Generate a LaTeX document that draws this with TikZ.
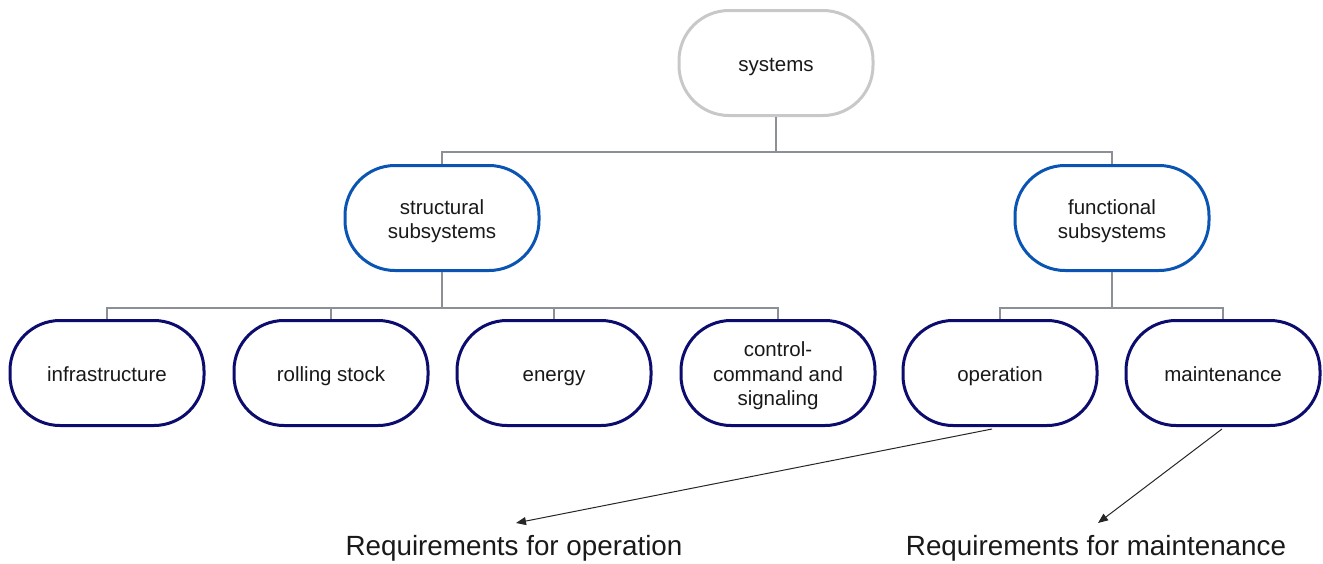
\documentclass[tikz,border=0pt]{standalone}
\usepackage{fontspec}
\setmainfont{Liberation Sans}
\usetikzlibrary{arrows.meta,calc}
\definecolor{sysgray}{RGB}{200,200,200}
\definecolor{subblue}{RGB}{10,85,180}
\definecolor{navy}{RGB}{12,12,110}
\definecolor{linkgray}{RGB}{140,144,150}
\definecolor{txt}{RGB}{25,25,25}
\newcommand{\lowstrut}{\rule{0pt}{21pt}}
\begin{document}
\begin{tikzpicture}[x=1pt,y=-1pt,
  pill/.style={draw, rectangle, rounded corners=50pt, line width=3pt, fill=white,
    minimum width=194pt, minimum height=105pt, inner sep=2pt, align=center,
    text=txt, font=\fontsize{20.5}{24.5}\selectfont},
  one/.style={text height=20pt, text depth=4pt},
  top/.style={pill, draw=sysgray},
  mid/.style={pill, draw=subblue},
  leaf/.style={pill, draw=navy},
  link/.style={draw=linkgray, line width=2pt},
  req/.style={-{Triangle[length=10pt,width=8pt]}, line width=1pt, draw=black!85},
  lab/.style={text=txt, font=\fontsize{27.8}{32}\selectfont, inner sep=0pt}]
\useasboundingbox (0,0) rectangle (1323,563);
\node[top,one] (sys) at (776,63) {systems};
\node[mid] (str) at (442,218) {\lowstrut structural\\subsystems};
\node[mid] (fun) at (1112,218) {\lowstrut functional\\subsystems};
\node[leaf,one] (inf) at (107,373) {infrastructure};
\node[leaf,one] (rol) at (331,373) {rolling stock};
\node[leaf,one] (ene) at (554,373) {energy};
\node[leaf] (ccs) at (778,373) {\lowstrut control-\\command and\\signaling};
\node[leaf,one] (ope) at (1000,373) {operation};
\node[leaf,one] (mai) at (1223,373) {maintenance};
\node[lab] (r1) at (514,548) {Requirements for operation};
\node[lab] (r2) at (1096,548) {Requirements for maintenance};
\coordinate (a1) at (516,523);
\coordinate (a2) at (1098,523);
% tree links
\draw[link] (sys.south) -- ++(0,35) -| (str.north);
\draw[link] (sys.south) ++(0,35) -| (fun.north);
\draw[link] (str.south) -- ++(0,36) -| (inf.north);
\draw[link] (str.south) ++(0,36) -| (rol.north);
\draw[link] (str.south) ++(0,36) -| (ene.north);
\draw[link] (str.south) ++(0,36) -| (ccs.north);
\draw[link] (fun.south) -- ++(0,36) -| (ope.north);
\draw[link] (fun.south) ++(0,36) -| (mai.north);
% requirement arrows
\draw[req] ($(ope.south)+(-8,2)$) -- (a1);
\draw[req] ($(mai.south)+(-1,2)$) -- (a2);
\end{tikzpicture}
\end{document}
